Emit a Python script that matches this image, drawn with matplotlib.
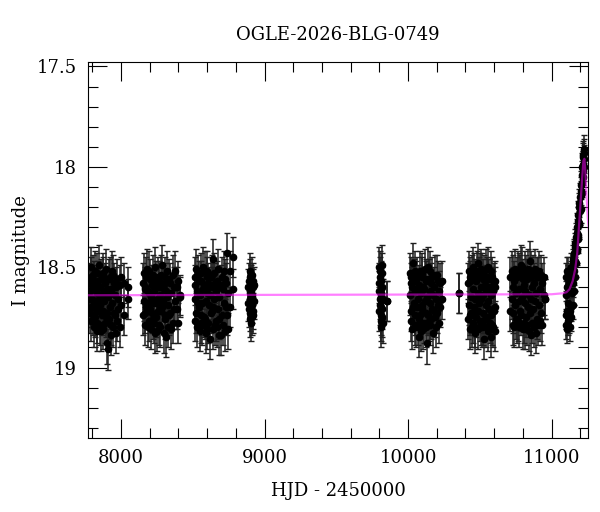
import matplotlib
matplotlib.use("Agg")
import matplotlib.pyplot as plt
from matplotlib.ticker import MultipleLocator

# observing seasons: HJD-2450000 and I magnitude
# (two frames per night, so each season has an "a" and a "b" magnitude list)
t1 = [7778, 7782, 7788, 7793, 7797, 7803, 7808, 7812, 7818, 7823, 7829, 7834, 7839, 7845, 7850, 7856, 7861, 7866, 7872, 7877, 7883,
      7888, 7894, 7899, 7905, 7910, 7916, 7921, 7927, 7932, 7938, 7944, 7950, 7957, 7964, 7972, 7981, 7990, 8001, 8018, 8045]
m1a = [18.66, 18.62, 18.70, 18.55, 18.66, 18.74, 18.59, 18.68, 18.52, 18.71, 18.63, 18.78, 18.57, 18.66, 18.69, 18.60, 18.82, 18.64, 18.53, 18.72, 18.67,
       18.58, 18.75, 18.61, 18.88, 18.65, 18.56, 18.70, 18.84, 18.62, 18.68, 18.54, 18.73, 18.64, 18.60, 18.77, 18.66, 18.59, 18.69, 18.58, 18.66]
m1b = [18.58, 18.73, 18.50, 18.77, 18.61, 18.54, 18.80, 18.57, 18.75, 18.60, 18.82, 18.53, 18.72, 18.49, 18.79, 18.67, 18.56, 18.74, 18.81, 18.55, 18.62,
       18.78, 18.51, 18.73, 18.63, 18.91, 18.76, 18.55, 18.61, 18.79, 18.52, 18.80, 18.58, 18.74, 18.83, 18.56, 18.71, 18.80, 18.55, 18.74, 18.60]
t2 = [8152, 8158, 8164, 8170, 8176, 8181, 8187, 8193, 8198, 8204, 8210, 8216, 8221, 8227, 8233, 8238, 8244, 8250, 8256, 8261,
      8267, 8273, 8279, 8285, 8291, 8297, 8303, 8309, 8316, 8322, 8329, 8336, 8343, 8351, 8359, 8368, 8377, 8388, 8399, 8410]
m2a = [18.58, 18.67, 18.73, 18.61, 18.55, 18.69, 18.80, 18.63, 18.52, 18.71, 18.65, 18.59, 18.76, 18.68, 18.62, 18.83, 18.57, 18.66, 18.72, 18.60,
       18.79, 18.64, 18.54, 18.70, 18.67, 18.61, 18.74, 18.58, 18.85, 18.65, 18.69, 18.56, 18.73, 18.63, 18.78, 18.60, 18.67, 18.71, 18.57, 18.65]
m2b = [18.74, 18.53, 18.60, 18.79, 18.70, 18.51, 18.62, 18.77, 18.68, 18.56, 18.81, 18.73, 18.54, 18.59, 18.78, 18.50, 18.75, 18.82, 18.55, 18.69,
       18.57, 18.80, 18.72, 18.49, 18.59, 18.83, 18.55, 18.76, 18.62, 18.52, 18.80, 18.74, 18.58, 18.81, 18.54, 18.71, 18.52, 18.60, 18.78, 18.64]
t3 = [8512, 8518, 8524, 8530, 8536, 8542, 8548, 8554, 8560, 8566, 8572, 8578, 8584, 8590, 8596, 8602, 8608, 8614, 8620, 8626,
      8632, 8638, 8644, 8650, 8656, 8662, 8668, 8674, 8680, 8686, 8693, 8700, 8707, 8714, 8722, 8730, 8737, 8748, 8762, 8778]
m3a = [18.66, 18.59, 18.73, 18.62, 18.54, 18.70, 18.64, 18.78, 18.57, 18.68, 18.61, 18.75, 18.52, 18.67, 18.63, 18.81, 18.58, 18.69, 18.64, 18.55,
       18.72, 18.60, 18.46, 18.66, 18.79, 18.62, 18.57, 18.71, 18.84, 18.65, 18.59, 18.74, 18.61, 18.68, 18.56, 18.70, 18.43, 18.63, 18.52, 18.45]
m3b = [18.55, 18.77, 18.51, 18.80, 18.68, 18.57, 18.82, 18.53, 18.74, 18.79, 18.50, 18.59, 18.76, 18.83, 18.55, 18.52, 18.78, 18.60, 18.86, 18.73,
       18.54, 18.81, 18.70, 18.53, 18.58, 18.77, 18.80, 18.51, 18.60, 18.76, 18.84, 18.55, 18.79, 18.52, 18.82, 18.58, 18.74, 18.81, 18.70, 18.61]
t4 = [8888, 8892, 8896, 8899, 8902, 8905, 8908, 8911, 8914, 8917, 8921, 8926]
m4a = [18.60, 18.71, 18.55, 18.66, 18.76, 18.62, 18.58, 18.69, 18.64, 18.74, 18.57, 18.67]
m4b = [18.68, 18.57, 18.73, 18.52, 18.63, 18.78, 18.70, 18.54, 18.75, 18.60, 18.72, 18.59]
t5 = [9797, 9800, 9803, 9806, 9808, 9810, 9812, 9814, 9816, 9818, 9821, 9825, 9856]
m5a = [18.50, 18.58, 18.69, 18.55, 18.63, 18.74, 18.80, 18.61, 18.66, 18.53, 18.71, 18.78, 18.67]
m5b = [18.62, 18.72, 18.52, 18.66, 18.77, 18.57, 18.64, 18.70, 18.49, 18.75, 18.60, 18.66, 18.67]
t6 = [10012, 10018, 10023, 10029, 10034, 10040, 10045, 10051, 10056, 10062, 10067, 10073, 10078, 10084, 10089, 10095, 10100, 10106, 10111,
      10117, 10122, 10128, 10133, 10139, 10144, 10150, 10155, 10161, 10167, 10173, 10179, 10186, 10193, 10200, 10208, 10216, 10225, 10236]
m6a = [18.64, 18.55, 18.72, 18.60, 18.48, 18.68, 18.79, 18.62, 18.57, 18.70, 18.66, 18.85, 18.59, 18.74, 18.63, 18.53, 18.69, 18.81, 18.61,
       18.67, 18.56, 18.73, 18.65, 18.50, 18.77, 18.62, 18.68, 18.58, 18.71, 18.64, 18.60, 18.75, 18.66, 18.54, 18.69, 18.62, 18.58, 18.66]
m6b = [18.53, 18.77, 18.58, 18.81, 18.70, 18.56, 18.52, 18.74, 18.80, 18.55, 18.79, 18.61, 18.76, 18.52, 18.82, 18.71, 18.55, 18.60, 18.78,
       18.51, 18.80, 18.57, 18.88, 18.74, 18.56, 18.79, 18.52, 18.76, 18.55, 18.83, 18.72, 18.54, 18.80, 18.73, 18.57, 18.78, 18.70, 18.57]
t7 = [10358, 10420, 10425, 10430, 10435, 10440, 10445, 10450, 10455, 10460, 10465, 10470, 10475, 10480, 10485, 10490, 10495, 10500, 10505, 10510,
      10515, 10520, 10525, 10530, 10535, 10540, 10545, 10550, 10555, 10560, 10565, 10570, 10575, 10580, 10586, 10592, 10598, 10604, 10608]
m7a = [18.63, 18.58, 18.69, 18.74, 18.55, 18.65, 18.80, 18.61, 18.50, 18.70, 18.66, 18.83, 18.57, 18.72, 18.63, 18.48, 18.68, 18.77, 18.60, 18.66,
       18.53, 18.73, 18.64, 18.86, 18.59, 18.69, 18.62, 18.75, 18.56, 18.67, 18.71, 18.60, 18.64, 18.52, 18.79, 18.62, 18.58, 18.82, 18.70]
m7b = [18.63, 18.76, 18.52, 18.57, 18.81, 18.73, 18.54, 18.78, 18.74, 18.53, 18.80, 18.56, 18.75, 18.52, 18.81, 18.72, 18.55, 18.53, 18.79, 18.51,
       18.80, 18.56, 18.79, 18.54, 18.76, 18.51, 18.80, 18.55, 18.82, 18.50, 18.56, 18.78, 18.85, 18.74, 18.55, 18.80, 18.72, 18.57, 18.60]
t8 = [10712, 10722, 10728, 10734, 10740, 10746, 10752, 10758, 10764, 10770, 10776, 10782, 10788, 10794, 10800, 10806, 10812, 10818, 10824,
      10830, 10836, 10842, 10848, 10854, 10860, 10866, 10872, 10878, 10884, 10890, 10897, 10904, 10911, 10918, 10926, 10935, 10945, 10956]
m8a = [18.55, 18.66, 18.60, 18.73, 18.57, 18.69, 18.63, 18.78, 18.52, 18.67, 18.61, 18.72, 18.49, 18.65, 18.81, 18.59, 18.68, 18.62, 18.75,
       18.56, 18.70, 18.64, 18.47, 18.66, 18.84, 18.60, 18.71, 18.58, 18.67, 18.63, 18.76, 18.55, 18.69, 18.61, 18.73, 18.58, 18.64, 18.66]
m8b = [18.72, 18.52, 18.79, 18.54, 18.80, 18.51, 18.76, 18.55, 18.77, 18.53, 18.80, 18.54, 18.74, 18.50, 18.56, 18.78, 18.52, 18.81, 18.54,
       18.79, 18.51, 18.82, 18.73, 18.55, 18.52, 18.78, 18.54, 18.80, 18.51, 18.83, 18.55, 18.79, 18.52, 18.77, 18.54, 18.79, 18.55, 18.66]
t9 = [11098, 11102, 11106, 11110, 11114, 11118, 11122, 11126, 11130, 11134, 11138, 11142, 11146, 11150, 11154, 11158, 11162, 11166,
      11170, 11174, 11178, 11182, 11186, 11190, 11194, 11198, 11202, 11206, 11210, 11213, 11216, 11219, 11222, 11225, 11228]
m9a = [18.64, 18.55, 18.72, 18.60, 18.68, 18.52, 18.76, 18.62, 18.57, 18.70, 18.54, 18.63, 18.48, 18.58, 18.44, 18.52, 18.40, 18.47,
       18.35, 18.41, 18.30, 18.36, 18.24, 18.28, 18.18, 18.22, 18.12, 18.14, 18.04, 18.08, 17.99, 18.02, 17.94, 17.96, 17.93]
m9b = [18.74, 18.79, 18.52, 18.81, 18.56, 18.77, 18.58, 18.80, 18.72, 18.50, 18.75, 18.55, 18.69, 18.46, 18.62, 18.43, 18.55, 18.38,
       18.48, 18.33, 18.42, 18.27, 18.34, 18.20, 18.29, 18.15, 18.21, 18.09, 18.13, 18.00, 18.05, 17.95, 17.99, 17.91, 18.00]

seasons_t = [t1, t2, t3, t4, t5, t6, t7, t8, t9]
seasons_m = [(m1a, m1b), (m2a, m2b), (m3a, m3b), (m4a, m4b), (m5a, m5b),
             (m6a, m6b), (m7a, m7b), (m8a, m8b), (m9a, m9b)]
seasons_err = [0.10, 0.10, 0.10, 0.09, 0.10, 0.10, 0.10, 0.10, 0.07]

# microlensing model curve
model_t = [7700, 11000, 11080, 11104, 11125, 11147, 11165, 11179, 11190, 11202, 11213, 11222, 11229, 11236, 11242, 11248, 11254, 11300]
model_m = [18.640, 18.635, 18.630, 18.625, 18.61, 18.57, 18.51, 18.43, 18.31, 18.18, 18.06, 17.97, 17.96, 18.03, 18.12, 18.20, 18.27, 18.60]

plt.rcParams['font.family'] = ['DejaVu Serif']
fig = plt.figure(figsize=(6, 5.12), dpi=100)
ax = fig.add_axes([0.147, 0.145, 0.833, 0.733])

for t, (ma, mb), e in zip(seasons_t, seasons_m, seasons_err):
    for m in (ma, mb):
        ax.errorbar(t, m, yerr=e, fmt='o', color='black', ms=4.5, ecolor='0.12',
                    elinewidth=1.1, capsize=2.2, capthick=1)

ax.plot(model_t, model_m, color='#ff00ff', alpha=0.5, lw=1.6, zorder=5)

ax.set_xlim(7771, 11254)
ax.set_ylim(19.35, 17.48)
ax.xaxis.set_major_locator(MultipleLocator(1000))
ax.xaxis.set_minor_locator(MultipleLocator(200))
ax.yaxis.set_major_locator(MultipleLocator(0.5))
ax.yaxis.set_minor_locator(MultipleLocator(0.1))
ax.yaxis.set_major_formatter(plt.FuncFormatter(lambda v, p: ('%g' % v)))
ax.tick_params(which='both', direction='in', top=True, right=True, labelsize=13)
ax.tick_params(which='major', length=14, width=0.8, pad=8)
ax.tick_params(which='minor', length=7, width=0.8)
ax.set_xlabel('HJD - 2450000', fontsize=13, labelpad=11)
ax.set_ylabel('I magnitude', fontsize=13, labelpad=5)
ax.set_title('OGLE-2026-BLG-0749', fontsize=13, pad=16)

fig.savefig('out.png', dpi=100)
